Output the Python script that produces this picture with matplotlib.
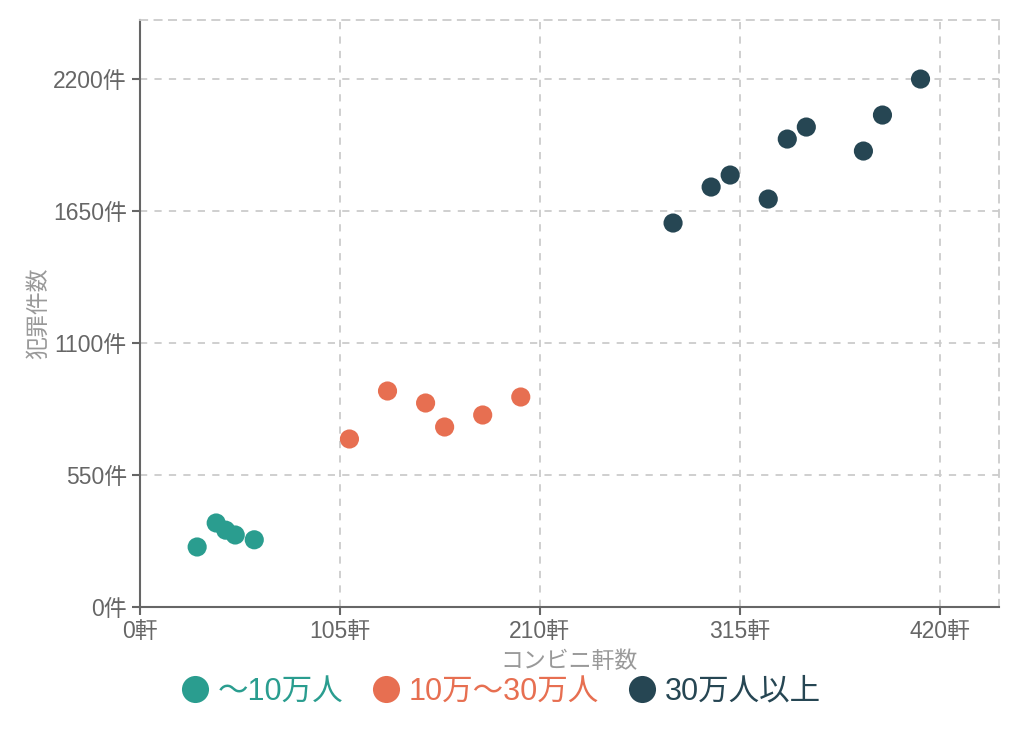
import matplotlib
matplotlib.use("Agg")
import matplotlib.pyplot as plt
from matplotlib.lines import Line2D

plt.rcParams['font.family'] = ['Liberation Sans', 'Noto Sans CJK JP', 'DejaVu Sans']

# データ
groups = ['〜10万人', '10万〜30万人', '30万人以上']
colors = ['#2a9d8f', '#e76f51', '#264653']

stores_small = [30, 40, 45, 50, 60]
crimes_small = [250, 350, 320, 300, 280]

stores_mid = [110, 130, 150, 160, 180, 200]
crimes_mid = [700, 900, 850, 750, 800, 875]

stores_large = [280, 300, 310, 330, 340, 350, 380, 390, 410]
crimes_large = [1600, 1750, 1800, 1700, 1950, 2000, 1900, 2050, 2200]

x_ticks = [0, 105, 210, 315, 420]
y_ticks = [0, 550, 1100, 1650, 2200]


def main():
    fig = plt.figure(figsize=(10.2, 7.36), dpi=100)
    ax = fig.add_axes([0.1373, 0.1753, 0.8417, 0.7975])

    series = [(stores_small, crimes_small), (stores_mid, crimes_mid), (stores_large, crimes_large)]
    for (xs, ys), c in zip(series, colors):
        ax.scatter(xs, ys, s=190, color=c, edgecolors='none', zorder=3)

    ax.set_xlim(0, 451)
    ax.set_ylim(0, 2446)
    ax.set_xticks(x_ticks)
    ax.set_xticklabels([f'{v}軒' for v in x_ticks])
    ax.set_yticks(y_ticks)
    ax.set_yticklabels([f'{v}件' for v in y_ticks])

    ax.grid(True, linestyle=(0, (4, 4)), color='#cccccc', linewidth=1.3)
    ax.set_axisbelow(True)
    for side in ['top', 'right']:
        ax.spines[side].set_color('#cccccc')
        ax.spines[side].set_linestyle((0, (4, 4)))
        ax.spines[side].set_linewidth(1.3)
    for side in ['left', 'bottom']:
        ax.spines[side].set_color('#666666')
        ax.spines[side].set_linewidth(1.5)

    ax.tick_params(colors='#666666', labelsize=16.5, length=6, width=1.5, pad=3.5)

    ax.set_xlabel('コンビニ軒数', fontsize=16.5, color='#999999')
    ax.xaxis.set_label_coords(0.5, -0.073)
    ax.set_ylabel('犯罪件数', fontsize=16.5, color='#999999')
    ax.yaxis.set_label_coords(-0.105, 0.5)

    handles = [Line2D([], [], marker='o', linestyle='', markersize=19.5,
                      markerfacecolor=c, markeredgecolor='none') for c in colors]
    leg = fig.legend(handles, groups, loc='center', bbox_to_anchor=(0.491, 0.06),
                     ncol=3, frameon=False, fontsize=22, handletextpad=0.3,
                     columnspacing=0.95, handlelength=0.9, borderaxespad=0)
    for t, c in zip(leg.get_texts(), colors):
        t.set_color(c)

    fig.savefig('out.png', dpi=100)


if __name__ == '__main__':
    main()
